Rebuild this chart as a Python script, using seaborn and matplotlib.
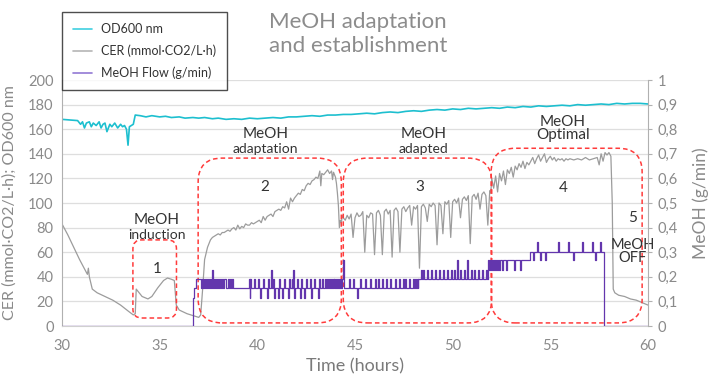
import matplotlib
matplotlib.use('Agg')
import matplotlib.pyplot as plt
import seaborn as sns
import pandas as pd
from matplotlib.patches import FancyBboxPatch
from matplotlib.lines import Line2D

# ---------------- data ----------------
od_hours = [30.0, 30.4, 30.8, 30.95, 31.05, 31.15, 31.25, 31.4, 31.5, 31.6, 31.75, 31.9, 32.0, 32.1,
            32.2, 32.3, 32.45, 32.55, 32.7, 32.85, 33.0, 33.1, 33.2, 33.3, 33.38, 33.45, 33.55, 33.65,
            33.75, 34.0, 34.3, 34.6, 35.0, 35.3, 35.6, 36.0, 36.3, 36.7, 37.0, 37.3, 37.7, 38.0, 38.4,
            38.8, 39.2, 39.6, 40.0, 40.4, 40.8, 41.2, 41.6, 42.0, 42.4, 42.8, 43.2, 43.6, 44.0, 44.4,
            44.8, 45.2, 45.6, 46.0, 46.4, 46.8, 47.2, 47.6, 48.0, 48.4, 48.8, 49.2, 49.6, 50.0, 50.4,
            50.8, 51.2, 51.6, 52.0, 52.4, 52.8, 53.2, 53.6, 54.0, 54.4, 54.8, 55.2, 55.6, 56.0, 56.4,
            56.8, 57.2, 57.6, 58.0, 58.4, 58.8, 59.2, 59.6, 60.0]
od_values = [168, 167.5, 167, 164, 166, 161, 165, 166, 162, 165, 163, 166, 161, 164,
             165, 158, 164, 162, 165, 161, 164, 162, 163, 160, 147, 162, 163, 164,
             171.5, 171, 170, 171, 170, 170.5, 169.5, 170, 169, 169.5, 169, 169.5, 168.5, 169, 168,
             168.5, 168, 169, 168.5, 169, 169.5, 169, 170, 170, 170.5, 171, 170.5, 171.5, 171.5, 172,
             172, 172.5, 173, 172.5, 173.5, 174, 173.5, 174.5, 175, 174.5, 175.5, 176, 175.5, 176.5, 176,
             177, 176.5, 177, 177.5, 177, 178, 177.5, 178.5, 178, 179, 178.5, 179, 179.5, 179, 180,
             179.5, 180, 180.5, 180, 181, 180.5, 181, 181, 180.5]

cer_hours = [30.0, 30.3, 30.6, 30.9, 31.2, 31.3, 31.35, 31.4, 31.55, 31.8, 32.2, 32.6, 33.0, 33.4,
             33.65, 33.75, 33.8, 33.9, 34.1, 34.4, 34.6, 34.9, 35.2, 35.4, 35.6, 35.75, 35.85, 36.0,
             36.4, 36.8, 37.0, 37.1, 37.2, 37.3, 37.45,
             37.6, 37.7, 37.8, 37.9, 38.0, 38.1, 38.2, 38.3, 38.4, 38.5, 38.6, 38.7, 38.8, 38.9,
             39.0, 39.1, 39.2, 39.3, 39.4, 39.5, 39.6, 39.7, 39.8, 39.9, 40.0, 40.1, 40.2, 40.3,
             40.4, 40.5, 40.6, 40.7, 40.8, 40.9, 41.0, 41.1, 41.2, 41.3, 41.4, 41.5, 41.6, 41.7,
             41.8, 41.9, 42.0, 42.1, 42.2, 42.3, 42.4, 42.5, 42.6, 42.7, 42.8, 42.9, 43.0, 43.1,
             43.2, 43.25, 43.3, 43.4, 43.5, 43.6, 43.7, 43.8, 43.85, 43.9, 44.0, 44.05, 44.1, 44.15,
             44.2, 44.25, 44.3, 44.35,
             44.4, 44.5, 44.6, 44.7, 44.8, 44.9, 45.0, 45.1, 45.2, 45.3, 45.4, 45.5, 45.6, 45.7,
             45.8, 45.9, 46.0, 46.1, 46.2, 46.3, 46.4, 46.5, 46.6, 46.7, 46.8, 46.9, 47.0, 47.1,
             47.2, 47.3, 47.4, 47.5, 47.6, 47.7, 47.8, 47.9, 48.0, 48.1, 48.2, 48.3, 48.4, 48.5,
             48.6, 48.7, 48.8, 48.9, 49.0, 49.1, 49.2, 49.3, 49.4, 49.5, 49.6, 49.7, 49.8, 49.9,
             50.0, 50.1, 50.2, 50.3, 50.4, 50.5, 50.6, 50.7, 50.8, 50.9, 51.0, 51.1, 51.2, 51.3,
             51.4, 51.5, 51.6, 51.7, 51.8, 51.9, 51.95,
             52.0, 52.1, 52.2, 52.3, 52.4, 52.5, 52.6, 52.7, 52.8, 52.9, 53.0, 53.1, 53.2, 53.3,
             53.4, 53.5, 53.6, 53.7, 53.8, 53.9, 54.0, 54.1, 54.2, 54.3, 54.4, 54.5, 54.6, 54.7,
             54.8, 54.9, 55.0, 55.1, 55.2, 55.3, 55.4, 55.5, 55.6, 55.7, 55.8, 55.9, 56.0, 56.2,
             56.4, 56.6, 56.8, 57.0, 57.2, 57.4, 57.5, 57.6, 57.7, 57.8, 57.9, 58.0, 58.1, 58.17,
             58.22, 58.3, 58.5, 58.8, 59.1, 59.4, 59.7, 60.0]
cer_values = [83, 74, 64, 54, 45, 42, 47, 40, 30, 27, 24, 21, 17, 12,
              9, 10, 30, 28, 24, 22, 24, 31, 37, 39, 38, 37, 17, 13,
              10, 8, 7, 9, 30, 54, 64,
              70, 72, 73, 74, 75, 74, 76, 76, 77, 78, 77, 79, 80, 78,
              82, 79, 81, 80, 83, 82, 82, 84, 83, 84, 85, 86, 84, 89,
              86, 89, 90, 91, 89, 93, 94, 95, 94, 97, 96, 101, 95, 104,
              101, 104, 106, 108, 107, 111, 110, 114, 116, 115, 118, 119, 121, 120,
              126, 114, 124, 123, 125, 127, 124, 126, 119, 125, 121, 116, 108, 98,
              80, 86, 84, 90,
              88, 86, 90, 87, 91, 72, 88, 92, 89, 90, 93, 60, 90, 88,
              92, 91, 58, 92, 94, 90, 58, 93, 95, 91, 94, 56, 94, 96,
              93, 60, 95, 97, 93, 96, 98, 82, 97, 95, 98, 47, 97, 99,
              96, 85, 99, 97, 100, 98, 66, 100, 98, 75, 101, 99, 102, 72,
              101, 103, 100, 104, 88, 103, 105, 102, 106, 67, 105, 107, 103, 108,
              95, 107, 109, 106, 82, 110, 108,
              120, 112, 122, 109, 124, 118, 126, 115, 127, 124, 129, 121, 130, 127,
              132, 129, 134, 128, 133, 131, 134, 137, 132, 136, 139, 134, 137, 140,
              133, 136, 138, 135, 137, 134, 136, 135, 136, 134, 136, 135, 136, 135,
              136, 135, 137, 135, 136, 137, 131, 140, 134, 141, 139, 141, 138, 100,
              30, 27, 25, 24, 22, 21, 19, 17]

# MeOH flow, one level code per 0.05 h starting at 36.0 h (one string per hour)
flow_level_values = {'0': 0.0, '1': 0.115, '2': 0.155, '3': 0.19, '4': 0.228,
                     '5': 0.27, '6': 0.30, '7': 0.34}
flow_codes = ["00000000000000122333",  # 36
              "33232323233232423232",  # 37
              "32323233223232322222",  # 38
              "22222222222313222322",  # 39
              "23212232221322423122",  # 40
              "21322123222132232412",  # 41
              "23221322123222312232",  # 42
              "22132232232323232323",  # 43
              "23232323522222322232",  # 44
              "22122322223222232222",  # 45
              "32223222322232223222",  # 46
              "23222322232322232223",  # 47
              "23232333434333433343",  # 48
              "33433343334333433343",  # 49
              "34335333433343353334",  # 50
              "33433343334333435454",  # 51
              "54545454555455545555",  # 52
              "55545555545555555556",  # 53
              "66566676656666656666",  # 54
              "66666666766666666676",  # 55
              "66656666666676666666",  # 56
              "66676656666766600000",  # 57
              ]
flow_start_hour = 36.0
flow_step = 0.05

x_ticks = [30, 35, 40, 45, 50, 55, 60]
left_ticks = [0, 20, 40, 60, 80, 100, 120, 140, 160, 180, 200]
right_ticks = [0, 0.1, 0.2, 0.3, 0.4, 0.5, 0.6, 0.7, 0.8, 0.9, 1.0]
right_tick_labels = ["0", "0,1", "0,2", "0,3", "0,4", "0,5", "0,6", "0,7", "0,8", "0,9", "1"]

series_labels = ["OD600 nm", "CER (mmol·CO2/L·h)", "MeOH Flow (g/min)"]

# ---------------- build tables ----------------
codes = "".join(flow_codes)
flow_hours = [30.0] + [flow_start_hour + flow_step * i for i in range(len(codes))] + [60.0]
flow_vals = [0.0] + [flow_level_values[c] for c in codes] + [0.0]
od_df = pd.DataFrame({"hours": od_hours, "value": od_values})
cer_df = pd.DataFrame({"hours": cer_hours, "value": cer_values})
flow_df = pd.DataFrame({"hours": flow_hours, "value": flow_vals})

# ---------------- style ----------------
sns.set_style("white")
plt.rcParams['font.family'] = ['Lato', 'DejaVu Sans']

C_OD = '#1dbfcf'
C_CER = '#9c9c9c'
C_FLOW = '#6336ad'
TICK_C = '#8a8a8a'

W, H = 713, 374
fig = plt.figure(figsize=(W / 100, H / 100), dpi=100)
L, R, B, T = 62, 648, 326, 80
ax = fig.add_axes([L / W, 1 - B / H, (R - L) / W, (B - T) / H])
ax2 = ax.twinx()

sns.lineplot(data=od_df, x="hours", y="value", ax=ax, color=C_OD, lw=1.2,
             estimator=None, sort=False, legend=False)
sns.lineplot(data=cer_df, x="hours", y="value", ax=ax, color=C_CER, lw=0.9,
             estimator=None, sort=False, legend=False)
sns.lineplot(data=flow_df, x="hours", y="value", ax=ax2, color=C_FLOW, lw=0.9,
             estimator=None, sort=False, legend=False, drawstyle='steps-post')

ax.set_xlim(30, 60)
ax.set_ylim(0, 200)
ax2.set_ylim(0, 1)
ax.set_xticks(x_ticks)
ax.set_yticks(left_ticks)
ax2.set_yticks(right_ticks)
ax2.set_yticklabels(right_tick_labels)

ax.yaxis.grid(True, color='#dedede', lw=0.9)
ax.xaxis.grid(False)
ax.set_axisbelow(True)
for s in ['top', 'right']:
    ax.spines[s].set_visible(False)
ax.spines['left'].set_color('#b0b0b0')
ax.spines['bottom'].set_color('#d0d0d0')
for s in ['top', 'left', 'bottom']:
    ax2.spines[s].set_visible(False)
ax2.spines['right'].set_color('#b0b0b0')

ax.tick_params(axis='both', length=0, labelsize=10.5, labelcolor=TICK_C, pad=6)
ax.tick_params(axis='x', pad=9)
ax2.tick_params(axis='y', length=3, color='#b0b0b0', labelsize=10.5, labelcolor=TICK_C, pad=4)

ax.set_xlabel("Time (hours)", fontsize=13, color='#7a7a7a', labelpad=4)
ax.set_ylabel("CER (mmol·CO2/L·h); OD600 nm", fontsize=11.5, color='#8a8a8a', labelpad=8)
ax2.set_ylabel("MeOH (g/min)", fontsize=12.5, color='#8a8a8a', labelpad=10)

# title
fig.text(358 / W, 1 - 34 / H, "MeOH adaptation\nand establishment", ha='center', va='center',
         fontsize=16, color='#8c8c8c', linespacing=1.25)

# ---------------- annotation boxes ----------------
px_per_h = (R - L) / 30.0
px_per_u = (B - T) / 200.0
aspect = px_per_h / px_per_u

def rbox(x0, x1, y0, y1, r_px):
    p = FancyBboxPatch((x0, y0), x1 - x0, y1 - y0,
                       boxstyle=f"round,pad=0,rounding_size={r_px / px_per_h}",
                       mutation_aspect=aspect, fill=False, ec='#ff3b3b', lw=1.1,
                       ls=(0, (3, 2)), zorder=5, clip_on=False)
    ax.add_patch(p)

rbox(33.63, 35.86, 6.5, 70, 9)
rbox(36.97, 44.3, 2.5, 136.5, 24)
rbox(44.4, 52.0, 2.5, 136.5, 24)
rbox(51.97, 59.7, 2.5, 144.5, 24)

TXT = '#333333'
def lab(h, v, big, small, fs_big=11, fs_small=10, gap=12):
    ax.text(h, v, big, ha='center', va='center', fontsize=fs_big, color=TXT, zorder=6)
    ax.text(h, v - gap, small, ha='center', va='center', fontsize=fs_small, color=TXT, zorder=6)

lab(34.85, 86, "MeOH", "induction")
lab(40.4, 156, "MeOH", "adaptation")
lab(48.5, 156, "MeOH", "adapted")
lab(55.65, 166, "MeOH", "Optimal", fs_small=11, gap=10.5)
lab(59.2, 66, "MeOH", "OFF", fs_big=10.5, fs_small=10.5, gap=10.5)

for h, v, s in [(34.85, 46, "1"), (40.4, 113, "2"), (48.3, 113, "3"), (55.65, 112, "4"), (59.2, 88, "5")]:
    ax.text(h, v, s, ha='center', va='center', fontsize=11, color=TXT, zorder=6)

# ---------------- legend ----------------
handles = [Line2D([], [], color='#3fcfe0', lw=1.2),
           Line2D([], [], color='#b5b5b5', lw=1.2),
           Line2D([], [], color='#9279d4', lw=1.2)]
leg = fig.legend(handles, series_labels, loc='upper left',
                 bbox_to_anchor=(L / W, 1 - 12 / H), frameon=True, fancybox=False,
                 edgecolor='#222222', fontsize=9, handlelength=1.5, handletextpad=0.7,
                 labelspacing=0.75, borderpad=0.9, borderaxespad=0)
leg.get_frame().set_linewidth(1.0)
for t in leg.get_texts():
    t.set_color('#333333')

fig.savefig("out.png", dpi=100)
